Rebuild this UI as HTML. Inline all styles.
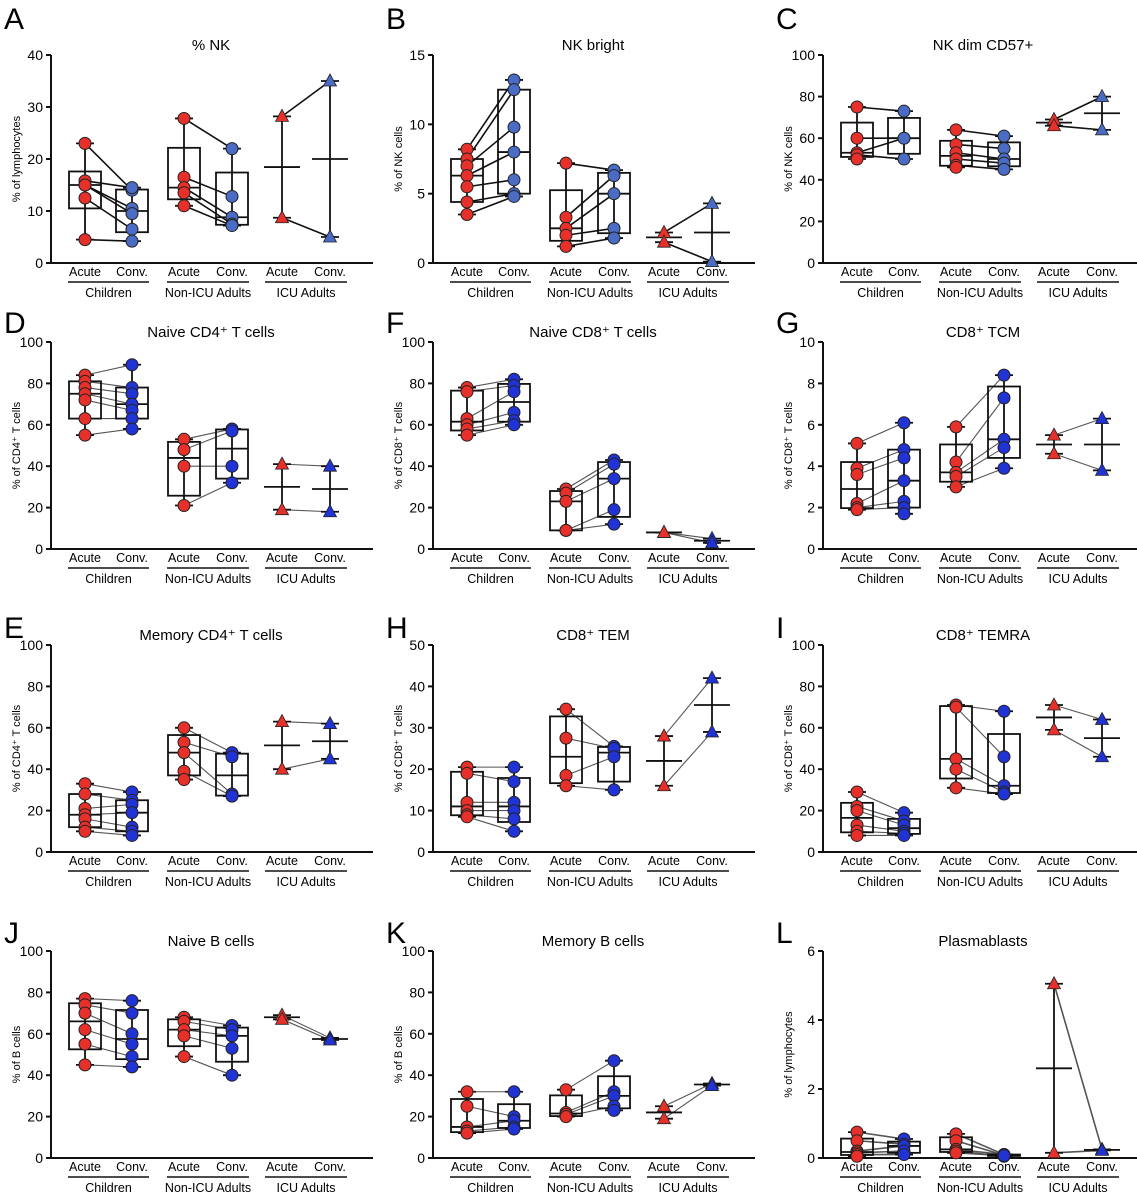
<!DOCTYPE html>
<html><head><meta charset="utf-8"><style>
html,body{margin:0;padding:0;background:#fff;}
svg{display:block;font-family:"Liberation Sans",sans-serif;}
</style></head><body>
<svg id="fig" width="1137" height="1200" viewBox="0 0 1137 1200"></svg>
<script>
const NS="http://www.w3.org/2000/svg";
const svg=document.getElementById('fig');
const titles=["% NK","NK bright","NK dim CD57+","Naive CD4⁺ T cells","Naive CD8⁺ T cells","CD8⁺ TCM","Memory CD4⁺ T cells","CD8⁺ TEM","CD8⁺ TEMRA","Naive B cells","Memory B cells","Plasmablasts"];
const letters=["A","B","C","D","F","G","E","H","I","J","K","L"];
const ylabels=["% of lymphocytes","% of NK cells","% of NK cells","% of CD4⁺ T cells","% of CD8⁺ T cells","% of CD8⁺ T cells","% of CD4⁺ T cells","% of CD8⁺ T cells","% of CD8⁺ T cells","% of B cells","% of B cells","% of lymphocytes"];
const yMax=[40,15,100,100,100,10,100,50,100,100,100,6];
const yStep=[10,5,20,20,20,2,20,10,20,20,20,2];
const categories=["Acute","Conv.","Acute","Conv.","Acute","Conv."];
const groupNames=["Children","Non-ICU Adults","ICU Adults"];
const vA=[[23,15.8,15,15,12.5,4.5],[14,14.5,10.5,9.5,6.5,4.2],[27.8,16.5,14.5,13.5,11],[22,12.8,8.8,7.5,7.2],[28.2,8.7],[35,5]];
const vB=[[8.2,7.5,7,6.3,5.5,4.4,3.5],[13.2,12.5,9.8,8,6,5,4.8],[7.2,3.3,2.5,2,1.2],[6.7,6.3,5,2.5,1.8],[2.2,1.5],[4.3,0.1]];
const vC=[[75,60,53,52,50],[73,60,60,50],[64,57,53,50,47,46],[61,55,50,48,45],[69,66],[80,64]];
const vD=[[84,81,78,75,72,63,55],[89,78,75,70,67,63,58],[53,48,40,21],[58,57,40,32],[41,19],[40,18]];
const vF=[[78,76,63,60,58,55],[82,79,76,66,62,60],[29,27,23,9,9],[43,41,34,19,12],[8,8],[5,3]];
const vG=[[5.1,3.9,3.6,2.2,2.0,1.9],[6.1,4.8,4.4,3.3,2.3,2.0,1.7],[5.9,4.2,3.7,3.5,3.0],[8.4,7.3,5.3,4.9,3.9],[5.5,4.6],[6.3,3.8]];
const vE=[[33,28,21,18,16,12,10],[29,25,23,19,12,10,8],[60,53,48,39,35],[48,46,28,27],[63,40],[62,45]];
const vH=[[20.5,19,12,10,9,8.5],[20.5,17,12,10,8,5],[34.5,27.5,18.5,16],[25.5,25,23,15],[28,16],[42,29]];
const vI=[[29,22,20,13,10,8],[19,15,13,10,9,8],[71,70,45,40,31],[68,46,32,29,28],[71,59],[64,46]];
const vJ=[[77,74,70,62,55,45],[76,70,60,55,49,44],[68,66,62,59,49],[64,62,59,53,40],[69,67],[58,57]];
const vK=[[32,25,15,13,12],[32,20,18,15,14],[33,22,21,20],[47,32,30,25,23],[25,19],[36,35]];
const vL=[[0.75,0.5,0.2,0.15,0.1,0.05],[0.55,0.4,0.35,0.2,0.1],[0.7,0.5,0.25,0.2,0.15],[0.1,0.08,0.1,0.05,0.07],[5.05,0.15],[0.25,0.22]];
const values=[vA,vB,vC,vD,vF,vG,vE,vH,vI,vJ,vK,vL];

const colX=[51,433,823], rowTop=[55,342,645,951], rowBot=[263,549,852,1158], letterY=[18,322,627,932];
const catOff=[34,81,133,181,231,279];

function el(tag,attrs,parent){const e=document.createElementNS(NS,tag);for(const k in attrs)e.setAttribute(k,attrs[k]);(parent||svg).appendChild(e);return e;}
function txt(s,attrs,parent){const e=el('text',attrs,parent);e.textContent=s;return e;}
function quant(a,p){const s=[...a].sort((x,y)=>x-y);const n=s.length;const pos=p*(n+1)-1;if(pos<=0)return s[0];if(pos>=n-1)return s[n-1];const lo=Math.floor(pos);return s[lo]+(s[lo+1]-s[lo])*(pos-lo);}

values.forEach((vals,pi)=>{
  const c=pi%3, r=Math.floor(pi/3);
  const ax=colX[c], top=rowTop[r], bot=rowBot[r];
  const g=el('g',{},svg);
  
  
  const y=v=>bot-(v/yMax[pi])*(bot-top);
  const xc=i=>ax+catOff[i];
  const L=txt(letters[pi],{x:colX[c]-47,y:letterY[r]+11,'font-size':30},g);
  
  const T=txt(titles[pi],{x:ax+160,y:top-5,'font-size':15,'text-anchor':'middle'},g);
  
  const ya=el('line',{x1:ax,y1:top,x2:ax,y2:bot,stroke:'#111','stroke-width':2},g);
  
  const xa=el('line',{x1:ax,y1:bot,x2:ax+322,y2:bot,stroke:'#111','stroke-width':2},g);
  
  for(let t=0;t<=yMax[pi]+1e-9;t+=yStep[pi]){
    el('line',{x1:ax-5,y1:y(t),x2:ax,y2:y(t),stroke:'#111','stroke-width':2},g);
    const tl=txt(String(Math.round(t*10)/10),{x:ax-8,y:y(t)+5,'font-size':14,'text-anchor':'end'},g);
    
  }
  const yl=txt(ylabels[pi],{x:0,y:0,'font-size':11,'text-anchor':'middle',transform:`translate(${ax-31},${(top+bot)/2}) rotate(-90)`},g);
  
  categories.forEach((cat,i)=>{
    const t=txt(cat,{x:xc(i),y:bot+13,'font-size':12.5,'text-anchor':'middle'},g);
    
  });
  groupNames.forEach((gn,k)=>{
    const x1=xc(2*k)-17,x2=xc(2*k+1)+17;
    el('line',{x1:x1,y1:bot+19,x2:x2,y2:bot+19,stroke:'#111','stroke-width':1.5},g);
    const t=txt(gn,{x:(x1+x2)/2,y:bot+34,'font-size':12.5,'text-anchor':'middle'},g);
    
  });
  const lineCol = r===0?'#111':'#555';
  for(let k=0;k<3;k++){
    const a=vals[2*k],b=vals[2*k+1];const n=Math.min(a.length,b.length);
    for(let j=0;j<n;j++){
      const pl=el('line',{x1:xc(2*k),y1:y(a[j]),x2:xc(2*k+1),y2:y(b[j]),stroke:lineCol,'stroke-width':r===0||pi===11?1.6:1.1},g);
      
    }
  }
  vals.forEach((a,i)=>{
    const x=xc(i);const mn=Math.min(...a),mx=Math.max(...a);
    el('line',{x1:x,y1:y(mn),x2:x,y2:y(mx),stroke:'#111','stroke-width':1.8},g);
    el('line',{x1:x-9,y1:y(mn),x2:x+9,y2:y(mn),stroke:'#111','stroke-width':1.8},g);
    el('line',{x1:x-9,y1:y(mx),x2:x+9,y2:y(mx),stroke:'#111','stroke-width':1.8},g);
    if(i<4){
      const q1=quant(a,0.25),q3=quant(a,0.75),md=quant(a,0.5);
      const b=el('rect',{x:x-16,y:y(q3),width:32,height:Math.max(1,y(q1)-y(q3)),fill:'none',stroke:'#111','stroke-width':1.8},g);
      
      el('line',{x1:x-16,y1:y(md),x2:x+16,y2:y(md),stroke:'#111','stroke-width':1.8},g);
    } else {
      const m=a.reduce((s,v)=>s+v,0)/a.length;
      const ml=el('line',{x1:x-18,y1:y(m),x2:x+18,y2:y(m),stroke:'#111','stroke-width':1.8},g);
      
    }
  });
  vals.forEach((a,i)=>{
    const x=xc(i);const acute=i%2===0;
    const fill = acute?'#e8302a':(r===0?'#4a6cc4':'#2233d6');
    a.forEach(v=>{
      let p;
      if(i<4){p=el('circle',{cx:x,cy:y(v),r:6,fill:fill,stroke:'#222','stroke-width':1},g);}
      else {const yy=y(v);p=el('polygon',{points:`${x},${yy-7} ${x-6.5},${yy+5} ${x+6.5},${yy+5}`,fill:fill,stroke:'#222','stroke-width':0.8},g);}
      
      
    });
  });
});
</script>
</body></html>
